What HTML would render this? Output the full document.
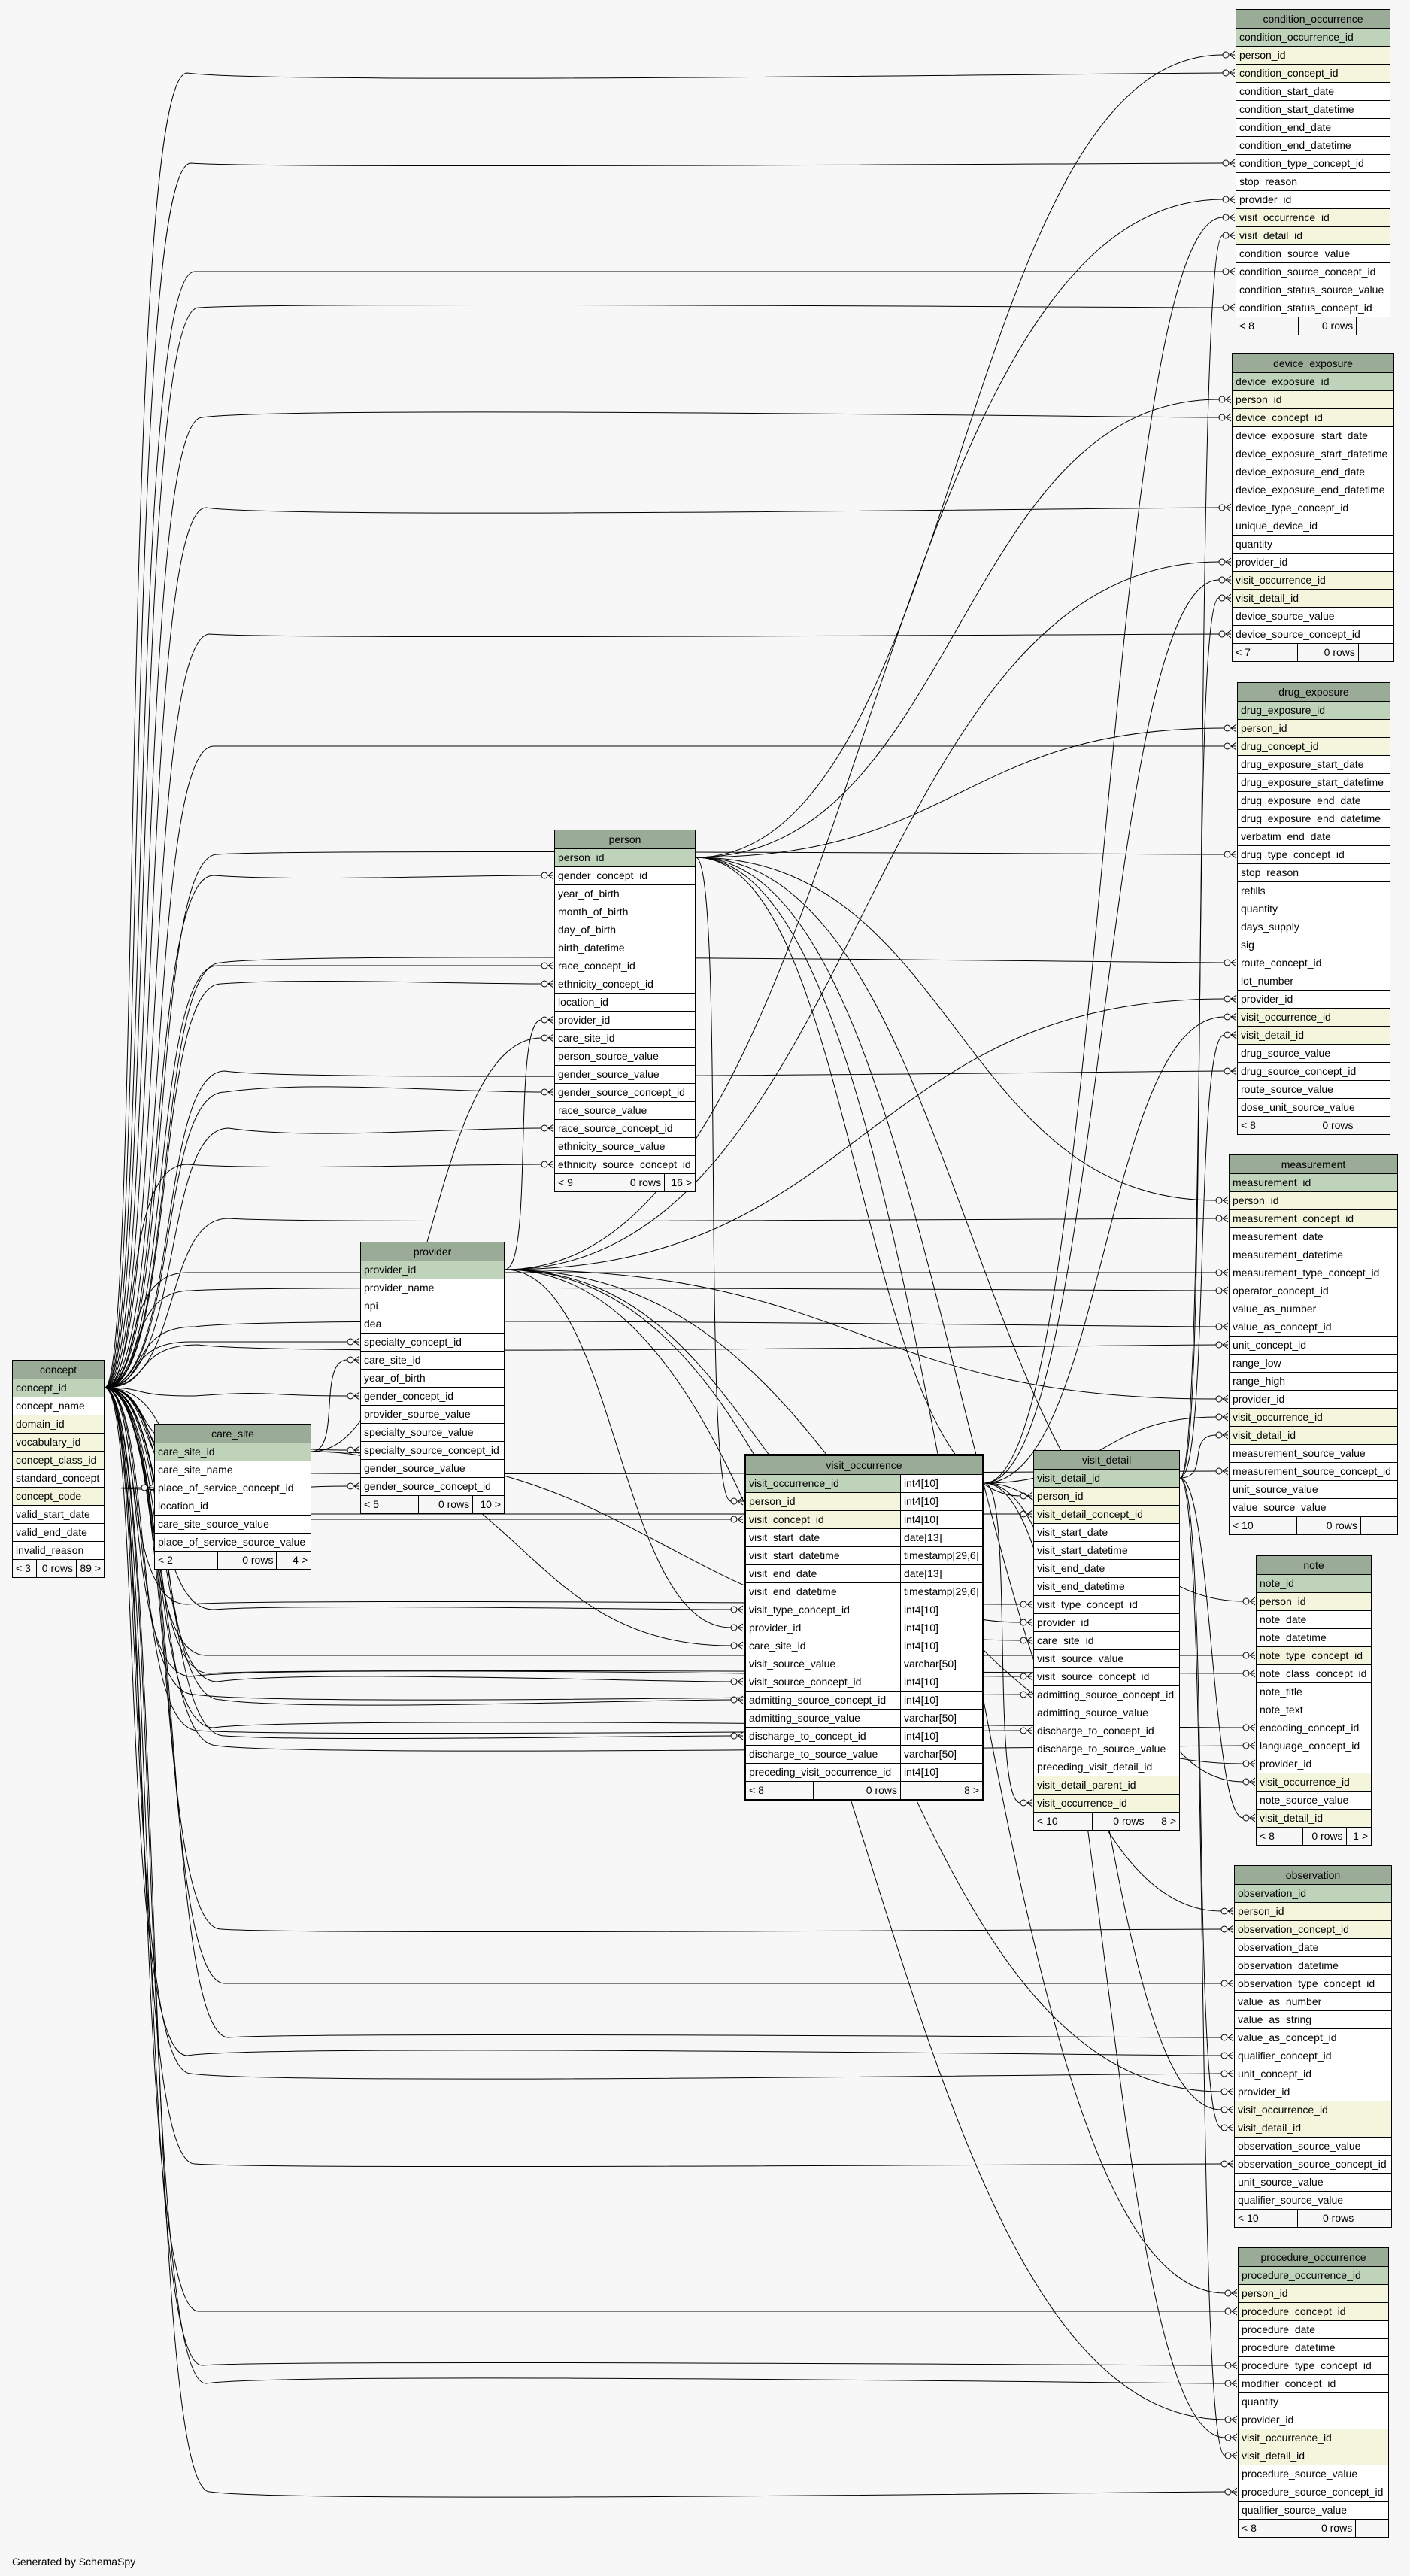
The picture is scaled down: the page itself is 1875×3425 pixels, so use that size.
<!DOCTYPE html>
<html><head><meta charset="utf-8">
<style>
body{margin:0;width:1875px;height:3425px;background:#f7f7f7;position:relative;overflow:hidden;font-family:"Liberation Sans",Arial,sans-serif;font-size:14px;color:#000}
svg{position:absolute;left:0;top:0}
.t{position:absolute;border:1px solid #000;background:#fff;z-index:2}
.t.b{border:3px solid #000}
.h{height:24px;line-height:24px;text-align:center;background:#9aab97;white-space:nowrap}
.r{height:24px;border-top:1px solid #000;box-sizing:border-box;padding-left:4px;line-height:22px;white-space:nowrap;overflow:hidden}
.k{background:#bfd3bb}.y{background:#f3f6dd}
.f{height:24px;border-top:1px solid #000;box-sizing:border-box;display:flex;line-height:22px;background:#f7f7f7}
.f span{box-sizing:border-box;padding:0 4px;white-space:nowrap}
.f span+span{border-left:1px solid #000;text-align:right}
.f span:nth-child(1){width:40%}.f span:nth-child(2){width:38%}.f span:nth-child(3){flex:1}
.q{display:flex;padding:0}
.q span{box-sizing:border-box;padding-left:4px;height:23px}
.q span:first-child{width:205px}
.q span+span{border-left:1px solid #000;flex:1;background:#fff}
.gen{position:absolute;left:16px;top:3398px;font-size:14px}
</style></head><body>
<svg id="lines" width="1875" height="3425"></svg>

<div class="t" id="co" style="left:1643px;top:12px;width:204px">
<div class="h">condition_occurrence</div>
<div class="r k">condition_occurrence_id</div><div class="r y">person_id</div><div class="r y">condition_concept_id</div><div class="r">condition_start_date</div><div class="r">condition_start_datetime</div><div class="r">condition_end_date</div><div class="r">condition_end_datetime</div><div class="r">condition_type_concept_id</div><div class="r">stop_reason</div><div class="r">provider_id</div><div class="r y">visit_occurrence_id</div><div class="r y">visit_detail_id</div><div class="r">condition_source_value</div><div class="r">condition_source_concept_id</div><div class="r">condition_status_source_value</div><div class="r">condition_status_concept_id</div>
<div class="f"><span>&lt; 8</span><span>0 rows</span><span></span></div></div>

<div class="t" id="de" style="left:1638px;top:470px;width:214px">
<div class="h">device_exposure</div>
<div class="r k">device_exposure_id</div><div class="r y">person_id</div><div class="r y">device_concept_id</div><div class="r">device_exposure_start_date</div><div class="r">device_exposure_start_datetime</div><div class="r">device_exposure_end_date</div><div class="r">device_exposure_end_datetime</div><div class="r">device_type_concept_id</div><div class="r">unique_device_id</div><div class="r">quantity</div><div class="r">provider_id</div><div class="r y">visit_occurrence_id</div><div class="r y">visit_detail_id</div><div class="r">device_source_value</div><div class="r">device_source_concept_id</div>
<div class="f"><span>&lt; 7</span><span>0 rows</span><span></span></div></div>

<div class="t" id="dr" style="left:1645px;top:907px;width:202px">
<div class="h">drug_exposure</div>
<div class="r k">drug_exposure_id</div><div class="r y">person_id</div><div class="r y">drug_concept_id</div><div class="r">drug_exposure_start_date</div><div class="r">drug_exposure_start_datetime</div><div class="r">drug_exposure_end_date</div><div class="r">drug_exposure_end_datetime</div><div class="r">verbatim_end_date</div><div class="r">drug_type_concept_id</div><div class="r">stop_reason</div><div class="r">refills</div><div class="r">quantity</div><div class="r">days_supply</div><div class="r">sig</div><div class="r">route_concept_id</div><div class="r">lot_number</div><div class="r">provider_id</div><div class="r y">visit_occurrence_id</div><div class="r y">visit_detail_id</div><div class="r">drug_source_value</div><div class="r">drug_source_concept_id</div><div class="r">route_source_value</div><div class="r">dose_unit_source_value</div>
<div class="f"><span>&lt; 8</span><span>0 rows</span><span></span></div></div>

<div class="t" id="me" style="left:1634px;top:1535px;width:223px">
<div class="h">measurement</div>
<div class="r k">measurement_id</div><div class="r y">person_id</div><div class="r y">measurement_concept_id</div><div class="r">measurement_date</div><div class="r">measurement_datetime</div><div class="r">measurement_type_concept_id</div><div class="r">operator_concept_id</div><div class="r">value_as_number</div><div class="r">value_as_concept_id</div><div class="r">unit_concept_id</div><div class="r">range_low</div><div class="r">range_high</div><div class="r">provider_id</div><div class="r y">visit_occurrence_id</div><div class="r y">visit_detail_id</div><div class="r">measurement_source_value</div><div class="r">measurement_source_concept_id</div><div class="r">unit_source_value</div><div class="r">value_source_value</div>
<div class="f"><span>&lt; 10</span><span>0 rows</span><span></span></div></div>

<div class="t" id="no" style="left:1670px;top:2068px;width:152px">
<div class="h">note</div>
<div class="r k">note_id</div><div class="r y">person_id</div><div class="r">note_date</div><div class="r">note_datetime</div><div class="r y">note_type_concept_id</div><div class="r">note_class_concept_id</div><div class="r">note_title</div><div class="r">note_text</div><div class="r">encoding_concept_id</div><div class="r">language_concept_id</div><div class="r">provider_id</div><div class="r y">visit_occurrence_id</div><div class="r">note_source_value</div><div class="r y">visit_detail_id</div>
<div class="f"><span>&lt; 8</span><span>0 rows</span><span>1 &gt;</span></div></div>

<div class="t" id="ob" style="left:1641px;top:2480px;width:208px">
<div class="h">observation</div>
<div class="r k">observation_id</div><div class="r y">person_id</div><div class="r y">observation_concept_id</div><div class="r">observation_date</div><div class="r">observation_datetime</div><div class="r">observation_type_concept_id</div><div class="r">value_as_number</div><div class="r">value_as_string</div><div class="r">value_as_concept_id</div><div class="r">qualifier_concept_id</div><div class="r">unit_concept_id</div><div class="r">provider_id</div><div class="r y">visit_occurrence_id</div><div class="r y">visit_detail_id</div><div class="r">observation_source_value</div><div class="r">observation_source_concept_id</div><div class="r">unit_source_value</div><div class="r">qualifier_source_value</div>
<div class="f"><span>&lt; 10</span><span>0 rows</span><span></span></div></div>

<div class="t" id="pr" style="left:1646px;top:2988px;width:199px">
<div class="h">procedure_occurrence</div>
<div class="r k">procedure_occurrence_id</div><div class="r y">person_id</div><div class="r y">procedure_concept_id</div><div class="r">procedure_date</div><div class="r">procedure_datetime</div><div class="r">procedure_type_concept_id</div><div class="r">modifier_concept_id</div><div class="r">quantity</div><div class="r">provider_id</div><div class="r y">visit_occurrence_id</div><div class="r y">visit_detail_id</div><div class="r">procedure_source_value</div><div class="r">procedure_source_concept_id</div><div class="r">qualifier_source_value</div>
<div class="f"><span>&lt; 8</span><span>0 rows</span><span></span></div></div>

<div class="t" id="pe" style="left:737px;top:1103px;width:186px">
<div class="h">person</div>
<div class="r k">person_id</div><div class="r">gender_concept_id</div><div class="r">year_of_birth</div><div class="r">month_of_birth</div><div class="r">day_of_birth</div><div class="r">birth_datetime</div><div class="r">race_concept_id</div><div class="r">ethnicity_concept_id</div><div class="r">location_id</div><div class="r">provider_id</div><div class="r">care_site_id</div><div class="r">person_source_value</div><div class="r">gender_source_value</div><div class="r">gender_source_concept_id</div><div class="r">race_source_value</div><div class="r">race_source_concept_id</div><div class="r">ethnicity_source_value</div><div class="r">ethnicity_source_concept_id</div>
<div class="f"><span>&lt; 9</span><span>0 rows</span><span>16 &gt;</span></div></div>

<div class="t" id="pv" style="left:479px;top:1651px;width:190px">
<div class="h">provider</div>
<div class="r k">provider_id</div><div class="r">provider_name</div><div class="r">npi</div><div class="r">dea</div><div class="r">specialty_concept_id</div><div class="r">care_site_id</div><div class="r">year_of_birth</div><div class="r">gender_concept_id</div><div class="r">provider_source_value</div><div class="r">specialty_source_value</div><div class="r">specialty_source_concept_id</div><div class="r">gender_source_value</div><div class="r">gender_source_concept_id</div>
<div class="f"><span>&lt; 5</span><span>0 rows</span><span>10 &gt;</span></div></div>

<div class="t" id="cn" style="left:16px;top:1808px;width:121px">
<div class="h">concept</div>
<div class="r k">concept_id</div><div class="r">concept_name</div><div class="r y">domain_id</div><div class="r y">vocabulary_id</div><div class="r y">concept_class_id</div><div class="r">standard_concept</div><div class="r y">concept_code</div><div class="r">valid_start_date</div><div class="r">valid_end_date</div><div class="r">invalid_reason</div>
<div class="f"><span style="width:31px">&lt; 3</span><span style="width:53px">0 rows</span><span>89 &gt;</span></div></div>

<div class="t" id="cs" style="left:205px;top:1893px;width:207px">
<div class="h">care_site</div>
<div class="r k">care_site_id</div><div class="r">care_site_name</div><div class="r">place_of_service_concept_id</div><div class="r">location_id</div><div class="r">care_site_source_value</div><div class="r">place_of_service_source_value</div>
<div class="f"><span>&lt; 2</span><span>0 rows</span><span>4 &gt;</span></div></div>

<div class="t b" id="vo" style="left:989px;top:1933px;width:314px">
<div class="h">visit_occurrence</div>
<div class="r q"><span class="k">visit_occurrence_id</span><span>int4[10]</span></div>
<div class="r q"><span class="y">person_id</span><span>int4[10]</span></div>
<div class="r q"><span class="y">visit_concept_id</span><span>int4[10]</span></div>
<div class="r q"><span>visit_start_date</span><span>date[13]</span></div>
<div class="r q"><span>visit_start_datetime</span><span>timestamp[29,6]</span></div>
<div class="r q"><span>visit_end_date</span><span>date[13]</span></div>
<div class="r q"><span>visit_end_datetime</span><span>timestamp[29,6]</span></div>
<div class="r q"><span>visit_type_concept_id</span><span>int4[10]</span></div>
<div class="r q"><span>provider_id</span><span>int4[10]</span></div>
<div class="r q"><span>care_site_id</span><span>int4[10]</span></div>
<div class="r q"><span>visit_source_value</span><span>varchar[50]</span></div>
<div class="r q"><span>visit_source_concept_id</span><span>int4[10]</span></div>
<div class="r q"><span>admitting_source_concept_id</span><span>int4[10]</span></div>
<div class="r q"><span>admitting_source_value</span><span>varchar[50]</span></div>
<div class="r q"><span>discharge_to_concept_id</span><span>int4[10]</span></div>
<div class="r q"><span>discharge_to_source_value</span><span>varchar[50]</span></div>
<div class="r q"><span>preceding_visit_occurrence_id</span><span>int4[10]</span></div>
<div class="f"><span style="width:89px">&lt; 8</span><span style="width:116px">0 rows</span><span>8 &gt;</span></div></div>

<div class="t" id="vd" style="left:1374px;top:1928px;width:193px">
<div class="h">visit_detail</div>
<div class="r k">visit_detail_id</div><div class="r y">person_id</div><div class="r y">visit_detail_concept_id</div><div class="r">visit_start_date</div><div class="r">visit_start_datetime</div><div class="r">visit_end_date</div><div class="r">visit_end_datetime</div><div class="r">visit_type_concept_id</div><div class="r">provider_id</div><div class="r">care_site_id</div><div class="r">visit_source_value</div><div class="r">visit_source_concept_id</div><div class="r">admitting_source_concept_id</div><div class="r">admitting_source_value</div><div class="r">discharge_to_concept_id</div><div class="r">discharge_to_source_value</div><div class="r">preceding_visit_detail_id</div><div class="r y">visit_detail_parent_id</div><div class="r y">visit_occurrence_id</div>
<div class="f"><span>&lt; 10</span><span>0 rows</span><span>8 &gt;</span></div></div>

<div class="gen">Generated by SchemaSpy</div>

<script>
(function(){
function row(t,c){var rs=document.querySelectorAll('#'+t+' .r');for(var i=0;i<rs.length;i++){var s=rs[i].querySelector('span')||rs[i];if(s.textContent.trim()===c)return rs[i];}return null;}
var R=[];
function add(st,sc,tt,cols){cols.forEach(function(c){R.push([st,sc,tt,c]);});}
add('cn','concept_id','co',['condition_concept_id','condition_type_concept_id','condition_source_concept_id','condition_status_concept_id']);
add('cn','concept_id','de',['device_concept_id','device_type_concept_id','device_source_concept_id']);
add('cn','concept_id','dr',['drug_concept_id','drug_type_concept_id','route_concept_id','drug_source_concept_id']);
add('cn','concept_id','me',['measurement_concept_id','measurement_type_concept_id','operator_concept_id','value_as_concept_id','unit_concept_id','measurement_source_concept_id']);
add('cn','concept_id','no',['note_type_concept_id','note_class_concept_id','encoding_concept_id','language_concept_id']);
add('cn','concept_id','ob',['observation_concept_id','observation_type_concept_id','value_as_concept_id','qualifier_concept_id','unit_concept_id','observation_source_concept_id']);
add('cn','concept_id','pr',['procedure_concept_id','procedure_type_concept_id','modifier_concept_id','procedure_source_concept_id']);
add('cn','concept_id','pe',['gender_concept_id','race_concept_id','ethnicity_concept_id','gender_source_concept_id','race_source_concept_id','ethnicity_source_concept_id']);
add('cn','concept_id','pv',['specialty_concept_id','gender_concept_id','specialty_source_concept_id','gender_source_concept_id']);
add('cn','concept_id','cs',['place_of_service_concept_id']);
add('cn','concept_id','vo',['visit_concept_id','visit_type_concept_id','visit_source_concept_id','admitting_source_concept_id','discharge_to_concept_id']);
add('cn','concept_id','vd',['visit_detail_concept_id','visit_type_concept_id','visit_source_concept_id','admitting_source_concept_id','discharge_to_concept_id']);
['co','de','dr','me','no','ob','pr','vo','vd'].forEach(function(t){add('pe','person_id',t,['person_id']);});
['co','de','dr','me','no','ob','pr','vo','vd','pe'].forEach(function(t){add('pv','provider_id',t,['provider_id']);});
['pe','pv','vo','vd'].forEach(function(t){add('cs','care_site_id',t,['care_site_id']);});
['co','de','dr','me','no','ob','pr','vd'].forEach(function(t){add('vo','visit_occurrence_id',t,['visit_occurrence_id']);});
['co','de','dr','me','no','ob','pr'].forEach(function(t){add('vd','visit_detail_id',t,['visit_detail_id']);});
var out='';
R.forEach(function(r,i){
 var a=row(r[0],r[1]),b=row(r[2],r[3]);if(!a||!b)return;
 var ra=a.getBoundingClientRect(),rb=b.getBoundingClientRect();
 var ta=document.getElementById(r[0]).getBoundingClientRect(),tb=document.getElementById(r[2]).getBoundingClientRect();
 var sx=ta.right,sy=ra.top+ra.height/2,tx=tb.left,ty=rb.top+rb.height/2;
 var ex=tx-17,d;
 if(r[0]==='cn'){
  var off=20+(i%12)*5;
  d='M'+sx+' '+sy+' C'+(sx+off+30)+' '+sy+' '+(sx+off)+' '+ty+' '+(sx+off+90)+' '+ty+' C'+(sx+off+200)+' '+(ty-((i%5)-2)*8)+' '+(ex-120)+' '+ty+' '+ex+' '+ty;
 }else{
  var dx=Math.max(40,(ex-sx)*0.5);
  d='M'+sx+' '+sy+' C'+(sx+dx)+' '+sy+' '+(ex-dx)+' '+ty+' '+ex+' '+ty;
 }
 out+='<path d="'+d+'" fill="none" stroke="#000" stroke-width="1"/>';
 out+='<circle cx="'+(tx-13)+'" cy="'+ty+'" r="4" fill="#f7f7f7" stroke="#000"/>';
 out+='<path d="M'+(tx-8)+' '+ty+' L'+(tx-1)+' '+(ty-5)+' M'+(tx-8)+' '+ty+' L'+(tx-1)+' '+ty+' M'+(tx-8)+' '+ty+' L'+(tx-1)+' '+(ty+5)+'" stroke="#000" fill="none"/>';
});
document.getElementById('lines').innerHTML=out;
})();
</script>
</body></html>
